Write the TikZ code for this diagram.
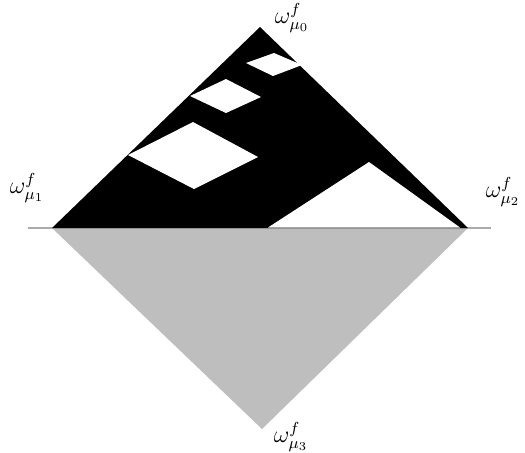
\documentclass[tikz,border=0pt]{standalone}
\usepackage{amsmath,amssymb}
\usepackage{tikz}
\definecolor{lowgray}{HTML}{BEBEBE}
\definecolor{linegray}{HTML}{AAAAAA}

\begin{document}
\begin{tikzpicture}[x=0.5pt, y=-0.5pt]
  \tikzset{
    vlabel/.style={font=\large, inner sep=0pt},
    hole/.style={fill=white, draw=none}
  }
  \useasboundingbox (0,0) rectangle (525,452);

  % Vertices
  \coordinate (top) at (260, 27);
  \coordinate (left) at (52, 228);
  \coordinate (right) at (468, 228);
  \coordinate (bot) at (262, 429);

  % Lower (grey) triangle and the horizontal line
  \fill[lowgray] (left) -- (right) -- (bot) -- cycle;
  \draw[linegray, line width=0.8pt] (28, 228) -- (491, 228);

  % Upper (black) triangle
  \fill[black] (left) -- (top) -- (right) -- cycle;

  % White holes
  \fill[hole] (246, 63) -- (274, 53) -- (302, 65) -- (273, 76) -- cycle;
  \fill[hole] (190, 96) -- (226, 79) -- (261, 97) -- (226, 113) -- cycle;
  \fill[hole] (128, 155) -- (193, 122) -- (258, 157) -- (194, 189) -- cycle;
  \fill[hole] (268, 227.5) -- (369, 162) -- (460, 227.5) -- cycle;

  % Labels
  \node[vlabel] (l0) at (292, 18) {$\omega^f_{\mu_0}$};
  \node[vlabel] (l1) at (27, 188) {$\omega^f_{\mu_1}$};
  \node[vlabel] (l2) at (503, 192) {$\omega^f_{\mu_2}$};
  \node[vlabel] (l3) at (291, 437) {$\omega^f_{\mu_3}$};

\end{tikzpicture}
\end{document}
